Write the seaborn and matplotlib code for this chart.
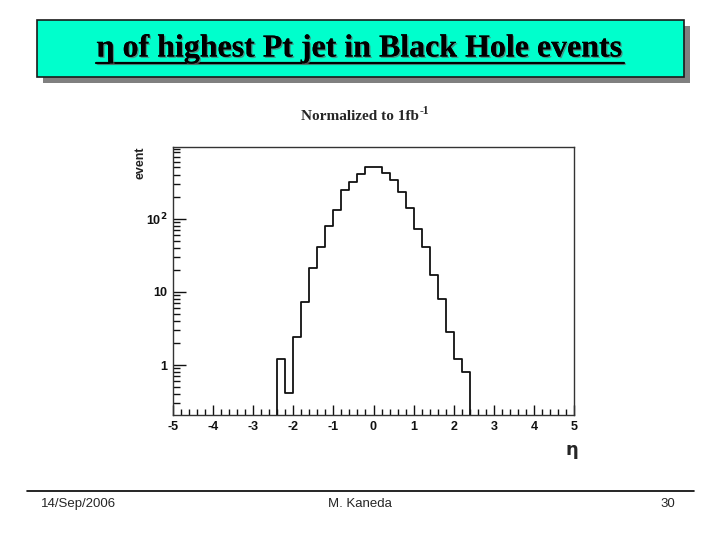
import numpy as np
import pandas as pd
import seaborn as sns
import matplotlib.pyplot as plt
import matplotlib.patheffects as pe
from matplotlib.patches import Rectangle
from matplotlib.lines import Line2D
from matplotlib.ticker import FixedLocator, LogLocator, NullFormatter, MultipleLocator

# datos: eta del jet de mayor Pt, bins de 0.2 entre -5 y 5
eta_edges = np.linspace(-5, 5, 51)
events = [0] * 13 + [
    1.2, 0.41, 2.4, 7.2, 21, 41, 79, 133, 243, 320, 411, 500,
    507, 419, 333, 229, 141, 73, 41, 17, 7.9, 2.8, 1.2, 0.81,
] + [0] * 13
eta_centers = eta_edges[:-1] + 0.1

title_txt = "η of highest Pt jet in Black Hole events"
subtitle_txt = "Normalized to 1fb"
subtitle_sup = "-1"
footer_left = "14/Sep/2006"
footer_mid = "M. Kaneda"
footer_right = "30"

df = pd.DataFrame({"eta": eta_centers, "event": events})

sns.set_theme(style="white")
plt.rcParams["font.family"] = ["Liberation Sans", "DejaVu Sans"]
plt.rcParams["axes.unicode_minus"] = False

fig = plt.figure(figsize=(7.2, 5.4), dpi=100)
fig.patch.set_facecolor("white")

# caja del titulo con sombra
fig.patches.append(Rectangle((43 / 720, 1 - 83 / 540), 647 / 720, 57 / 540,
                             transform=fig.transFigure, facecolor="#808080",
                             edgecolor="none", zorder=0))
fig.patches.append(Rectangle((37 / 720, 1 - 77 / 540), 647 / 720, 57 / 540,
                             transform=fig.transFigure, facecolor="#00FFCC",
                             edgecolor="#1a1a1a", linewidth=1.2, zorder=1))
t = fig.text(0.5, 1 - 49 / 540, title_txt, ha="center", va="center",
             family=["Liberation Serif", "DejaVu Serif"], fontweight="bold",
             fontsize=23, color="black", zorder=3,
             path_effects=[pe.withSimplePatchShadow(offset=(1, -1), shadow_rgbFace="#666666", alpha=0.7),
                           pe.Normal()])

st = fig.text(360 / 720, 1 - 116 / 540, subtitle_txt, ha="center", va="center",
              family=["Liberation Serif", "DejaVu Serif"], fontweight="bold", fontsize=11)

ax = fig.add_axes([173 / 720, 1 - 415 / 540, 401 / 720, 268 / 540])
sns.histplot(data=df, x="eta", weights="event", bins=list(eta_edges), element="step",
             fill=False, color="#111111", linewidth=1.3, ax=ax)
ax.set_yscale("log")
ax.set_xlim(-5, 5)
ax.set_ylim(0.208, 950)

ax.xaxis.set_major_locator(MultipleLocator(1))
ax.xaxis.set_minor_locator(MultipleLocator(0.2))
ax.yaxis.set_major_locator(FixedLocator([1, 10, 100]))
ax.set_yticklabels(["1", "10", "10$^\\mathbf{2}$"])
ax.yaxis.set_minor_locator(LogLocator(base=10, subs=np.arange(2, 10)))
ax.yaxis.set_minor_formatter(NullFormatter())
ax.tick_params(axis="both", which="both", direction="in", bottom=True, left=True,
               top=False, right=False, labelsize=9, colors="#111111")
ax.tick_params(axis="x", which="major", length=7, width=1, pad=4)
ax.tick_params(axis="x", which="minor", length=4, width=1)
ax.tick_params(axis="y", which="major", length=9, width=1, pad=4)
ax.tick_params(axis="y", which="minor", length=5, width=1)
for lab in ax.get_xticklabels() + ax.get_yticklabels():
    lab.set_fontweight("bold")
for s in ax.spines.values():
    s.set_color("#333333")
    s.set_linewidth(1)
ax.set_xlabel("")
ax.set_ylabel("")

fig.text(140 / 720, 1 - 147 / 540, "event", rotation=90, ha="center", va="top",
         fontsize=9, fontweight="bold", color="#222222")
fig.text(572 / 720, 1 - 450 / 540, "η", ha="center", va="center",
         fontsize=13, fontweight="bold", family=["DejaVu Sans"])

# pie de pagina
fig.add_artist(Line2D([27 / 720, 694 / 720], [1 - 491 / 540, 1 - 491 / 540],
                      transform=fig.transFigure, color="black", linewidth=1.2))
fig.text(41 / 720, 1 - 504 / 540, footer_left, ha="left", va="center", fontsize=9.5)
fig.text(360 / 720, 1 - 504 / 540, footer_mid, ha="center", va="center", fontsize=9.5)
fig.text(668 / 720, 1 - 504 / 540, footer_right, ha="center", va="center", fontsize=9.5)

# subrayado del titulo y superindice
fig.canvas.draw()
inv = fig.transFigure.inverted()
bb = t.get_window_extent().transformed(inv)
fig.add_artist(Line2D([bb.x0, bb.x1], [1 - 63 / 540, 1 - 63 / 540],
                      transform=fig.transFigure, color="black", linewidth=1.6, zorder=3,
                      path_effects=[pe.SimpleLineShadow(offset=(1, -1), shadow_color="#666666", alpha=0.7),
                                    pe.Normal()]))
sb = st.get_window_extent().transformed(inv)
fig.text(sb.x1 + 1 / 720, 1 - 111 / 540, subtitle_sup, ha="left", va="center",
         family=["Liberation Serif", "DejaVu Serif"], fontweight="bold", fontsize=8.5)

fig.savefig("out.png", dpi=100, facecolor="white")
